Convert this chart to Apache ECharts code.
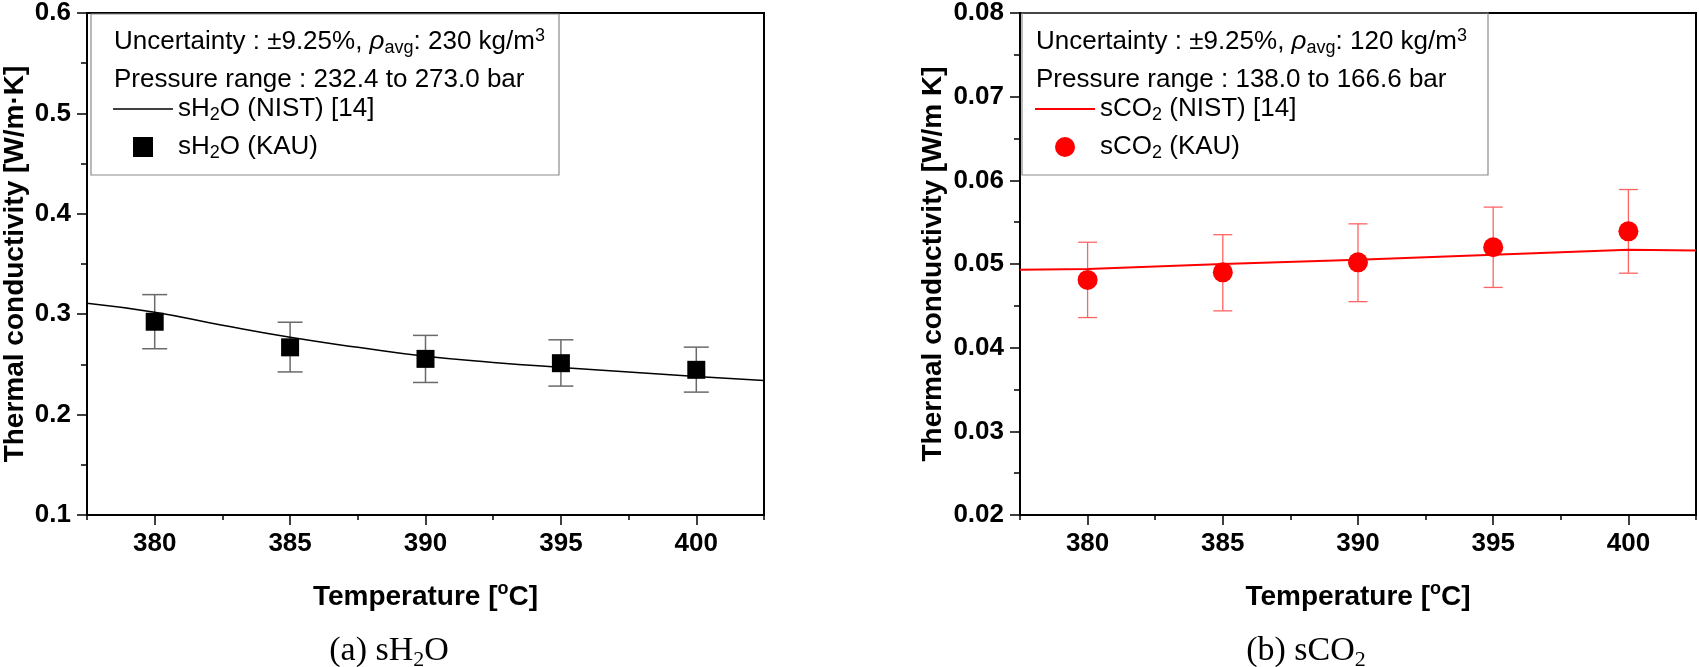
<!DOCTYPE html>
<html>
<head>
<meta charset="utf-8">
<title>Thermal conductivity - sH2O / sCO2</title>
<script src="https://cdn.jsdelivr.net/npm/echarts@6.0.0/dist/echarts.min.js"></script>
<style>
  html, body { margin: 0; padding: 0; background: #fff; }
  #chart { width: 1699px; height: 667px; }
</style>
</head>
<body>
<div id="chart"></div>
<script>
// x axis
var tempPts = [380, 385, 390, 395, 400];
var xTicks = [380, 385, 390, 395, 400];
var xMinorTicks = [377.5, 382.5, 387.5, 392.5, 397.5, 402.5];

// (a) sH2O
var nistTempH2O = [377.5, 380, 382.5, 385, 387.5, 390, 392.5, 395, 397.5, 400, 402.5];
var nistH2O = [0.311, 0.302, 0.289, 0.277, 0.267, 0.258, 0.252, 0.247, 0.2425, 0.238, 0.234];
var kauH2O = [0.2925, 0.2670, 0.2555, 0.2512, 0.2446];
var kauH2OHi = [0.3195, 0.2920, 0.2789, 0.2745, 0.2672];
var kauH2OLo = [0.2656, 0.2425, 0.2320, 0.2284, 0.2224];

// (b) sCO2
var nistTempCO2 = [377.5, 380, 385, 390, 395, 400, 402.5];
var nistCO2 = [0.0493, 0.0494, 0.0500, 0.0505, 0.0511, 0.0517, 0.0516];
var kauCO2 = [0.0481, 0.0490, 0.0502, 0.0520, 0.0539];
var kauCO2Hi = [0.0526, 0.0535, 0.0548, 0.0568, 0.0589];
var kauCO2Lo = [0.0436, 0.0444, 0.0455, 0.0472, 0.0489];

var FONT = "'Liberation Sans', Arial, sans-serif";
var SERIF = "'Liberation Serif', 'Times New Roman', serif";

// rich styles (color for echarts labels, fill for raw graphic text)
var RICH = {
    t: { fontSize: 26, lineHeight: 30, verticalAlign: 'middle', fontFamily: FONT, color: '#000', fill: '#000' },
    s: { fontSize: 18, lineHeight: 14, verticalAlign: 'bottom', fontFamily: FONT, color: '#000', fill: '#000' },
    u: { fontSize: 18, lineHeight: 10, verticalAlign: 'top', fontFamily: FONT, color: '#000', fill: '#000' },
    r: { fontSize: 26, lineHeight: 30, verticalAlign: 'middle', fontStyle: 'italic', fontFamily: FONT, color: '#000', fill: '#000' }
};
var CAP_RICH = {
    t: { fontSize: 34, lineHeight: 40, verticalAlign: 'middle', fontFamily: SERIF, fill: '#000' },
    s: { fontSize: 22, lineHeight: 17, verticalAlign: 'bottom', fontFamily: SERIF, fill: '#000' }
};

var legendText = {
    'sH2O (NIST) [14]': '{t|sH}{s|2}{t|O (NIST) [14]}',
    'sH2O (KAU)': '{t|sH}{s|2}{t|O (KAU)}',
    'sCO2 (NIST) [14]': '{t|sCO}{s|2}{t| (NIST) [14]}',
    'sCO2 (KAU)': '{t|sCO}{s|2}{t| (KAU)}'
};

function pairs(xs, ys) {
    return xs.map(function (x, i) { return [x, ys[i]]; });
}

function xAxes(grid) {
    return [
        {
            type: 'value', gridIndex: grid, min: 377.5, max: 402.5, position: 'bottom',
            axisLine: { lineStyle: { color: '#000', width: 2 } },
            axisTick: { customValues: xTicks, length: 10, lineStyle: { color: '#000', width: 1.5 } },
            axisLabel: { customValues: xTicks, margin: 16, fontSize: 26, fontWeight: 'bold', color: '#000', fontFamily: FONT },
            splitLine: { show: false },
            name: '{n|Temperature [}{sup|o}{n|C]}',
            nameLocation: 'middle',
            nameGap: 65,
            nameTextStyle: {
                fontSize: 28, fontWeight: 'bold', fontFamily: FONT, color: '#000',
                rich: {
                    n: { fontSize: 28, fontWeight: 'bold', fontFamily: FONT, color: '#000', lineHeight: 34, verticalAlign: 'middle' },
                    sup: { fontSize: 18, fontWeight: 'bold', fontFamily: FONT, color: '#000', lineHeight: 12, verticalAlign: 'top' }
                }
            }
        },
        {
            // minor ticks only
            type: 'value', gridIndex: grid, min: 377.5, max: 402.5, position: 'bottom',
            axisLine: { show: false },
            axisTick: { customValues: xMinorTicks, length: 5, lineStyle: { color: '#000', width: 1.5 } },
            axisLabel: { show: false },
            splitLine: { show: false }
        }
    ];
}

function yAxis(grid, min, max, step, name, gap) {
    return {
        type: 'value', gridIndex: grid, min: min, max: max, interval: step,
        axisLine: { show: true, lineStyle: { color: '#000', width: 2 } },
        axisTick: { show: true, length: 10, lineStyle: { color: '#000', width: 1.5 } },
        minorTick: { show: true, splitNumber: 2, length: 6, lineStyle: { color: '#000', width: 1.5 } },
        axisLabel: { margin: 16, fontSize: 26, fontWeight: 'bold', color: '#000', fontFamily: FONT },
        splitLine: { show: false },
        name: name,
        nameLocation: 'middle',
        nameGap: gap,
        nameTextStyle: { fontSize: 28, fontWeight: 'bold', fontFamily: FONT, color: '#000' }
    };
}

function errorBars(xIdx, yIdx, lo, hi, color, capHalf, width) {
    return {
        type: 'custom',
        xAxisIndex: xIdx,
        yAxisIndex: yIdx,
        silent: true,
        z: 2,
        encode: { x: 0, y: [1, 2] },
        data: tempPts.map(function (t, i) { return [t, lo[i], hi[i]]; }),
        renderItem: function (params, api) {
            var top = api.coord([api.value(0), api.value(2)]);
            var bot = api.coord([api.value(0), api.value(1)]);
            var st = { stroke: color, lineWidth: width };
            return {
                type: 'group',
                children: [
                    { type: 'line', shape: { x1: top[0], y1: top[1], x2: bot[0], y2: bot[1] }, style: st },
                    { type: 'line', shape: { x1: top[0] - capHalf, y1: top[1], x2: top[0] + capHalf, y2: top[1] }, style: st },
                    { type: 'line', shape: { x1: bot[0] - capHalf, y1: bot[1], x2: bot[0] + capHalf, y2: bot[1] }, style: st }
                ]
            };
        }
    };
}

function legendBlock(names, left, icons) {
    return {
        data: names.map(function (n, i) { return { name: n, icon: icons[i] }; }),
        orient: 'vertical',
        left: left,
        top: 96,
        padding: 0,
        itemWidth: 60,
        itemHeight: 20,
        itemGap: 10,
        selectedMode: false,
        formatter: function (name) { return legendText[name]; },
        textStyle: { fontSize: 26, fontFamily: FONT, color: '#000', rich: RICH }
    };
}

function infoText(x, y, text) {
    return {
        type: 'text', x: x, y: y, silent: true,
        style: { text: text, rich: RICH, font: '26px ' + FONT, fill: '#000', verticalAlign: 'middle' }
    };
}

var myChart = echarts.init(document.getElementById('chart'));

var option = {
    backgroundColor: '#fff',
    animation: false,
    grid: [
        { left: 87, top: 11, width: 677, height: 504, show: true, borderColor: '#000', borderWidth: 2, backgroundColor: 'transparent' },
        { left: 1020, top: 11, width: 676, height: 504, show: true, borderColor: '#000', borderWidth: 2, backgroundColor: 'transparent' }
    ],
    xAxis: xAxes(0).concat(xAxes(1)),
    yAxis: [
        yAxis(0, 0.1, 0.6, 0.1, 'Thermal conductivity [W/m·K]', 58),
        yAxis(1, 0.02, 0.08, 0.01, 'Thermal conductivity [W/m K]', 73)
    ],
    legend: [
        legendBlock(['sH2O (NIST) [14]', 'sH2O (KAU)'], 113, ['path://M0,0H40V1H0Z', 'path://M0,0H10V10H0Z']),
        legendBlock(['sCO2 (NIST) [14]', 'sCO2 (KAU)'], 1035, ['path://M0,0H30V1H0Z', 'circle'])
    ],
    graphic: [
        { type: 'rect', silent: true, z: 10, shape: { x: 91, y: 14, width: 468, height: 161 }, style: { fill: 'rgba(255,255,255,0)', stroke: '#8c8c8c', lineWidth: 1.2 } },
        { type: 'rect', silent: true, z: 10, shape: { x: 1022, y: 13, width: 466, height: 162 }, style: { fill: 'rgba(255,255,255,0)', stroke: '#8c8c8c', lineWidth: 1.2 } },
        infoText(114, 42, '{t|Uncertainty : ±9.25%, }{r|ρ}{s|avg}{t|: 230 kg/m}{u|3}'),
        infoText(114, 80, '{t|Pressure range : 232.4 to 273.0 bar}'),
        infoText(1036, 42, '{t|Uncertainty : ±9.25%, }{r|ρ}{s|avg}{t|: 120 kg/m}{u|3}'),
        infoText(1036, 80, '{t|Pressure range : 138.0 to 166.6 bar}'),
        {
            type: 'text', x: 389, y: 651, silent: true,
            style: { text: '{t|(a) sH}{s|2}{t|O}', rich: CAP_RICH, font: '34px ' + SERIF, fill: '#000', align: 'center', verticalAlign: 'middle' }
        },
        {
            type: 'text', x: 1306, y: 651, silent: true,
            style: { text: '{t|(b) sCO}{s|2}', rich: CAP_RICH, font: '34px ' + SERIF, fill: '#000', align: 'center', verticalAlign: 'middle' }
        }
    ],
    series: [
        {
            name: 'sH2O (NIST) [14]', type: 'line', xAxisIndex: 0, yAxisIndex: 0,
            smooth: true, symbol: 'none', color: '#000',
            lineStyle: { color: '#000', width: 1.5 },
            data: pairs(nistTempH2O, nistH2O), z: 3
        },
        errorBars(0, 0, kauH2OLo, kauH2OHi, '#6a6a6a', 12.5, 1.5),
        {
            name: 'sH2O (KAU)', type: 'scatter', xAxisIndex: 0, yAxisIndex: 0,
            symbol: 'rect', symbolSize: 18, color: '#000',
            itemStyle: { color: '#000', opacity: 1 },
            data: pairs(tempPts, kauH2O), z: 4
        },
        {
            name: 'sCO2 (NIST) [14]', type: 'line', xAxisIndex: 2, yAxisIndex: 1,
            smooth: false, symbol: 'none', color: '#ff0000',
            lineStyle: { color: '#ff0000', width: 2 },
            data: pairs(nistTempCO2, nistCO2), z: 3
        },
        errorBars(2, 1, kauCO2Lo, kauCO2Hi, '#ff6464', 9.5, 1.3),
        {
            name: 'sCO2 (KAU)', type: 'scatter', xAxisIndex: 2, yAxisIndex: 1,
            symbol: 'circle', symbolSize: 20, color: '#ff0000',
            itemStyle: { color: '#ff0000', opacity: 1 },
            data: pairs(tempPts, kauCO2), z: 4
        }
    ]
};

myChart.setOption(option);
window.addEventListener('resize', function () {
    myChart.resize();
});
</script>
</body>
</html>
